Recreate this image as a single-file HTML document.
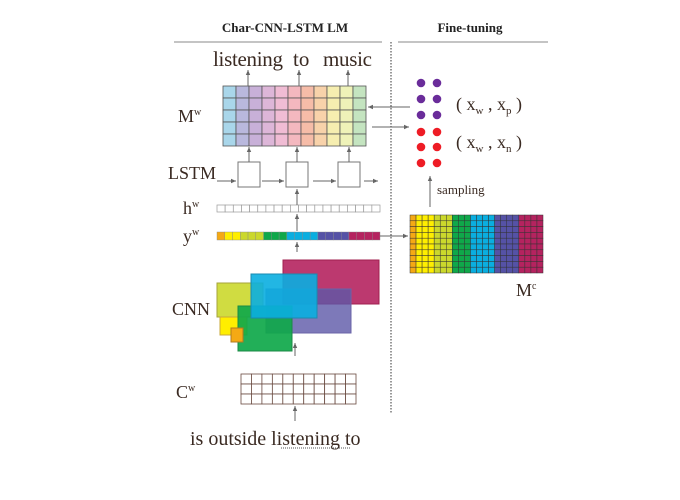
<!DOCTYPE html>
<html><head><meta charset="utf-8"><style>
html,body{margin:0;padding:0;background:#fff}
svg{display:block}
text{font-family:"Liberation Serif",serif;fill:#3a2a22}
</style></head><body>
<svg id="s" width="680" height="500" viewBox="0 0 680 500">
<defs><marker id="ah" markerWidth="6" markerHeight="6" refX="5" refY="3" orient="auto"><path d="M0,0.8 L5,3 L0,5.2z" fill="#666"/></marker></defs>
<text x="285" y="32" text-anchor="middle" font-size="13" font-weight="bold" style="fill:#222">Char-CNN-LSTM LM</text>
<line x1="174" y1="42" x2="382" y2="42" stroke="#888"/>
<text x="470" y="32" text-anchor="middle" font-size="13" font-weight="bold" style="fill:#222">Fine-tuning</text>
<line x1="398" y1="42" x2="548" y2="42" stroke="#888"/>
<line x1="391" y1="42" x2="391" y2="414" stroke="#333" stroke-dasharray="1.5,1.5"/>
<g>
<text x="213" y="66" font-size="21" textLength="70">listening</text>
<text x="293" y="66" font-size="21">to</text>
<text x="323" y="66" font-size="21" textLength="49">music</text>
</g>
<g id="mw"></g>
<text x="178" y="122" font-size="18">M<tspan font-size="10" dy="-7">w</tspan></text>
<text x="168" y="179" font-size="18">LSTM</text>
<g id="lstm"></g>
<text x="183" y="214" font-size="18">h<tspan font-size="10" dy="-7">w</tspan></text>
<text x="183" y="242" font-size="18">y<tspan font-size="10" dy="-7">w</tspan></text>
<g id="hw"></g>
<g id="yw"></g>
<g stroke-width="1">
<rect x="283" y="260" width="96" height="44" fill="#b5235f" fill-opacity="0.9" stroke="#a0204f"/>
<rect x="266" y="289" width="85" height="44" fill="#5c58a8" fill-opacity="0.8" stroke="#6a64a8"/>
<rect x="217" y="283" width="46" height="34" fill="#cbd82c" fill-opacity="0.9" stroke="#a6a33a"/>
<rect x="220" y="317" width="27" height="18" fill="#ffee00" stroke="#c8a83a"/>
<rect x="238" y="306" width="54" height="45" fill="#0fa84a" fill-opacity="0.92" stroke="#1b8a45"/>
<rect x="251" y="274" width="66" height="44" fill="#0aaee0" fill-opacity="0.9" stroke="#1a8ab0"/>
<rect x="231" y="328" width="12" height="14" fill="#f5a914" stroke="#b07a20"/>
</g>
<text x="172" y="315" font-size="18">CNN</text>
<g id="cw"></g>
<text x="176" y="398" font-size="18">C<tspan font-size="10" dy="-7">w</tspan></text>
<text x="190" y="445" font-size="20">is outside listening to</text>
<line x1="281" y1="448" x2="350" y2="448" stroke="#555" stroke-dasharray="1,1"/>
<g id="dots"></g>
<text x="456" y="110" font-size="18">( x<tspan font-size="11" dy="4">w</tspan><tspan dy="-4"> , x</tspan><tspan font-size="11" dy="4">p</tspan><tspan dy="-4">  )</tspan></text>
<text x="456" y="148" font-size="18">( x<tspan font-size="11" dy="4">w</tspan><tspan dy="-4"> , x</tspan><tspan font-size="11" dy="4">n</tspan><tspan dy="-4">  )</tspan></text>
<text x="437" y="194" font-size="13">sampling</text>
<g id="mc"></g>
<text x="516" y="296" font-size="18">M<tspan font-size="10" dy="-7">c</tspan></text>
<g id="arrows" stroke="#666" stroke-width="1" marker-end="url(#ah)"></g>
</svg>
<script>
const NS="http://www.w3.org/2000/svg";
function mk(p,t,a){const e=document.createElementNS(NS,t);for(const k in a)e.setAttribute(k,a[k]);p.appendChild(e);return e;}
const mwColors=["#a9d6ea","#b9b8dd","#c8b0d8","#ddb6d8","#f0bcd4","#f4b8bf","#f6bca8","#f8d2aa","#f6eeb0","#eef2b8","#c4e4c0"];
const ywColors=["#f5a914","#ffee00","#ffee00","#cbd82c","#cbd82c","#cbd82c","#0fa84a","#0fa84a","#0fa84a","#0aaee0","#0aaee0","#0aaee0","#0aaee0","#5552a6","#5552a6","#5552a6","#5552a6","#b5235f","#b5235f","#b5235f","#b5235f"];
const mcColors=["#f5a914","#ffee00","#ffee00","#ffee00","#cbd82c","#cbd82c","#cbd82c","#0fa84a","#0fa84a","#0fa84a","#0aaee0","#0aaee0","#0aaee0","#0aaee0","#5552a6","#5552a6","#5552a6","#5552a6","#b5235f","#b5235f","#b5235f","#b5235f"];
const g=id=>document.getElementById(id);
let x0=223,w=(366-223)/11;
mwColors.forEach((c,i)=>{for(let r=0;r<5;r++){const e=mk(g('mw'),'rect',{x:x0+i*w,y:86+r*12,width:w,height:12,fill:c,stroke:'#555','stroke-width':0.8});

}});
[238,286,338].forEach(x=>{const e=mk(g('lstm'),'rect',{x:x,y:162,width:22,height:25,fill:'#fff',stroke:'#777'});

});
let hn=20,hwW=(380-217)/hn;
for(let i=0;i<hn;i++){const e=mk(g('hw'),'rect',{x:217+i*hwW,y:205,width:hwW,height:7,fill:'#fff',stroke:'#999','stroke-width':0.7});

}
let ywW=(380-217)/ywColors.length;
ywColors.forEach((c,i)=>{const e=mk(g('yw'),'rect',{x:217+i*ywW,y:232,width:ywW,height:8,fill:c,stroke:'#888','stroke-width':0.4});

});
let cwW=(356-241)/11;
for(let i=0;i<11;i++)for(let r=0;r<3;r++){const e=mk(g('cw'),'rect',{x:241+i*cwW,y:374+r*10,width:cwW,height:10,fill:'#fff',stroke:'#6a4a40','stroke-width':0.8});

}
let mcW=(543-410)/mcColors.length,mcH=58/10;
mcColors.forEach((c,i)=>{for(let r=0;r<10;r++){const e=mk(g('mc'),'rect',{x:410+i*mcW,y:215+r*mcH,width:mcW,height:mcH,fill:c,stroke:'#333','stroke-width':0.5});

}});
[83,99,115,132,147,163].forEach((y,r)=>[421,437].forEach(x=>{const e=mk(g('dots'),'circle',{cx:x,cy:y,r:4.3,fill:r<3?'#6a2c9a':'#ee1c25'});

}));
[[248,86,248,70],[299,86,299,70],[348,86,348,70],[249,162,249,147],[297,162,297,147],[349,162,349,147],
[217,181,236,181],[262,181,284,181],[313,181,336,181],[364,181,378,181],[297,205,297,189],[297,231,297,214],[297,252,297,242],
[295,356,295,343],[295,421,295,406],[380,236,408,236],[410,107,368,107],[372,127,409,127],[430,207,430,176]].forEach(a=>{
const e=mk(g('arrows'),'line',{x1:a[0],y1:a[1],x2:a[2],y2:a[3]});

});
</script>
</body></html>
